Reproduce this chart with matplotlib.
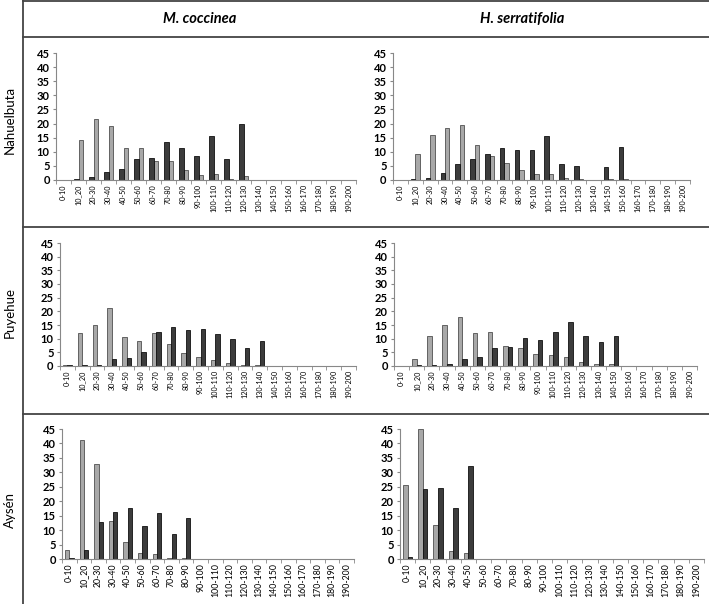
import matplotlib
matplotlib.use("Agg")
import matplotlib.pyplot as plt
import numpy as np

plt.rcParams['font.family'] = ['Lato', 'DejaVu Sans']

# diameter classes
classes = ["0-10", "10_20", "20-30", "30-40", "40-50", "50-60", "60-70", "70-80",
           "80-90", "90-100", "100-110", "110-120", "120-130", "130-140", "140-150",
           "150-160", "160-170", "170-180", "180-190", "190-200"]

species = ["M. coccinea", "H. serratifolia"]
sites = ["Nahuelbuta", "Puyehue", "Aysén"]

# light grey series
nah_mc_light = [0, 14, 21.5, 19, 11.5, 11.5, 6.6, 6.6, 3.4, 1.9, 2, 0.5, 1.4, 0, 0, 0, 0, 0, 0, 0]
nah_hs_light = [0, 9.3, 16, 18.6, 19.4, 12.5, 8.5, 6, 3.5, 2.3, 2.3, 0.7, 0.3, 0, 0.2, 0.2, 0, 0, 0, 0]
puy_mc_light = [0.4, 12, 15, 21.4, 10.5, 9.1, 12.2, 8.1, 4.6, 3.4, 2.1, 1.1, 0.3, 0.3, 0, 0, 0, 0, 0, 0]
puy_hs_light = [0, 2.7, 11, 15, 18, 11.9, 12.3, 7.5, 6.6, 4.4, 3.9, 3.4, 1.6, 0.7, 0.7, 0, 0, 0, 0, 0]
ays_mc_light = [3.2, 41.2, 32.8, 13.1, 5.9, 2.1, 1.6, 0.3, 0.3, 0, 0, 0, 0, 0, 0, 0, 0, 0, 0, 0]
ays_hs_light = [25.6, 45, 11.7, 2.8, 2, 0, 0, 0, 0, 0, 0, 0, 0, 0, 0, 0, 0, 0, 0, 0]

# dark grey series
nah_mc_dark = [0, 0.3, 1.2, 2.8, 3.8, 7.6, 7.8, 13.4, 11.5, 8.6, 15.5, 7.6, 19.9, 0, 0, 0, 0, 0, 0, 0]
nah_hs_dark = [0, 0.3, 0.7, 2.5, 5.5, 7.5, 9.3, 11.4, 10.7, 10.7, 15.7, 5.6, 5.1, 0, 4.6, 11.7, 0, 0, 0, 0]
puy_mc_dark = [0.4, 0.3, 0.3, 2.4, 2.9, 5.2, 12.6, 14.2, 13.1, 13.7, 11.8, 9.7, 6.6, 9.1, 0, 0, 0, 0, 0, 0]
puy_hs_dark = [0, 0.3, 0.3, 0.7, 2.6, 3.4, 6.7, 7.1, 10.3, 9.4, 12.3, 16, 11, 8.8, 11, 0, 0, 0, 0, 0]
ays_mc_dark = [0.4, 3.2, 12.7, 16.2, 17.7, 11.3, 15.9, 8.7, 14.2, 0, 0, 0, 0, 0, 0, 0, 0, 0, 0, 0]
ays_hs_dark = [0.7, 24.2, 24.7, 17.6, 32.3, 0, 0, 0, 0, 0, 0, 0, 0, 0, 0, 0, 0, 0, 0, 0]

light = [[nah_mc_light, nah_hs_light], [puy_mc_light, puy_hs_light], [ays_mc_light, ays_hs_light]]
dark = [[nah_mc_dark, nah_hs_dark], [puy_mc_dark, puy_hs_dark], [ays_mc_dark, ays_hs_dark]]

W, H = 709, 604
fig = plt.figure(figsize=(W / 100, H / 100), dpi=100)

def fx(px):
    return px / W

def fy(py):
    return 1 - py / H

# table lines
for yy in [1, 37, 227, 414]:
    fig.add_artist(plt.Line2D([fx(23), 1], [fy(yy), fy(yy)], color="#444444", lw=1.3))
fig.add_artist(plt.Line2D([fx(23), fx(23)], [0, 1], color="#444444", lw=1.3))

# headers
fig.text(fx(200), fy(19), species[0], ha="center", va="center", fontsize=10.5,
         fontweight="bold", style="italic")
fig.text(fx(522), fy(19), species[1], ha="center", va="center", fontsize=10.5,
         fontweight="bold", style="italic")

# row labels
for lbl, yc in zip(sites, [120, 312, 510]):
    fig.text(fx(10), fy(yc), lbl, rotation=90, ha="center", va="center", fontsize=9.5)

# panel boxes in pixels: (left, right, top, bottom)
boxes = [
    [(56, 356, 53, 180), (393, 690, 53, 180)],
    [(60, 356, 243, 366), (394, 697, 243, 366)],
    [(62, 354, 429, 559), (400, 704, 429, 559)],
]
# dark bars come first in the Nahuelbuta row
dark_first = [True, False, False]
xlab_size = [5.2, 5.2, 6.3]

x = np.arange(len(classes))
w = 0.3
for r in range(3):
    for c in range(2):
        l, rr, t, b = boxes[r][c]
        ax = fig.add_axes([fx(l), fy(b), fx(rr) - fx(l), fy(t) - fy(b)])
        if dark_first[r]:
            xd, xl = x - w / 2, x + w / 2
        else:
            xl, xd = x - w / 2, x + w / 2
        ax.bar(xl, light[r][c], width=w, color="#a8a8a8", edgecolor="#505050", linewidth=0.6)
        ax.bar(xd, dark[r][c], width=w, color="#3c3c3c", edgecolor="#111111", linewidth=0.6)
        ax.set_ylim(0, 45)
        ax.set_yticks(range(0, 50, 5))
        ax.set_xlim(-0.5, len(classes) - 0.5)
        ax.set_xticks(x)
        ax.set_xticklabels(classes, rotation=90, fontsize=xlab_size[r])
        ax.set_xticks(np.arange(-0.5, len(classes), 1), minor=True)
        ax.tick_params(axis="x", which="major", length=0, pad=3)
        ax.tick_params(axis="x", which="minor", length=3, color="#888888")
        ax.tick_params(axis="y", length=2.5, color="#888888", labelsize=8, pad=2)
        for tl in ax.get_yticklabels():
            tl.set_fontweight("bold")
        for s in ["top", "right"]:
            ax.spines[s].set_visible(False)
        for s in ["left", "bottom"]:
            ax.spines[s].set_color("#888888")
            ax.spines[s].set_linewidth(0.8)
        ax.patch.set_alpha(0)

fig.savefig("out.png", dpi=100)
